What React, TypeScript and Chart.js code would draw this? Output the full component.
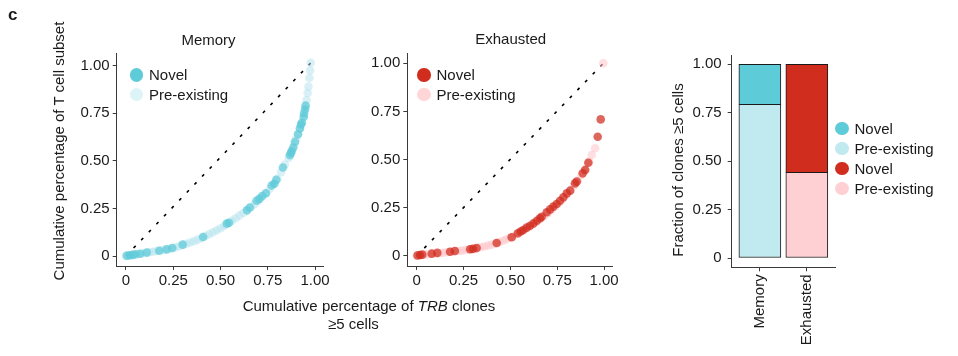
import React, { useEffect, useRef } from "react";
import { Chart, registerables } from "chart.js";

Chart.register(...registerables);

const FONT = "'Liberation Sans', Arial, Helvetica, sans-serif";
const TEXT = "#1a1a1a";
const AXIS = "#3a3a3a";

// ---------- data ----------
const axisTicks = [0, 0.25, 0.5, 0.75, 1];
const axisTickLabels = ["0", "0.25", "0.50", "0.75", "1.00"];

const memoryNovel: [number, number][] = [
  [0.005, 0.002], [0.02, 0.004], [0.035, 0.006], [0.05, 0.009], [0.075, 0.012],
  [0.11, 0.018], [0.176, 0.028], [0.215, 0.035], [0.245, 0.042], [0.3, 0.06],
  [0.408, 0.1], [0.533, 0.17], [0.545, 0.175], [0.64, 0.24], [0.655, 0.255],
  [0.69, 0.29], [0.705, 0.3], [0.72, 0.315], [0.74, 0.33], [0.77, 0.37],
  [0.785, 0.38], [0.795, 0.4], [0.83, 0.465], [0.867, 0.53], [0.872, 0.54],
  [0.876, 0.55], [0.885, 0.57], [0.894, 0.6], [0.91, 0.64], [0.92, 0.67],
  [0.925, 0.69], [0.93, 0.7], [0.94, 0.73], [0.942, 0.75], [0.947, 0.77],
  [0.95, 0.79],
];

const memoryPreexisting: [number, number][] = [
  [0.0, 0.0], [0.02, 0.003], [0.04, 0.006], [0.06, 0.009], [0.08, 0.012],
  [0.1, 0.016], [0.12, 0.019], [0.14, 0.022], [0.16, 0.025], [0.18, 0.029],
  [0.2, 0.032], [0.22, 0.036], [0.24, 0.04], [0.26, 0.045], [0.28, 0.051],
  [0.3, 0.058], [0.32, 0.064], [0.34, 0.071], [0.36, 0.078], [0.38, 0.086],
  [0.4, 0.095], [0.42, 0.105], [0.44, 0.115], [0.46, 0.125], [0.48, 0.135],
  [0.5, 0.146], [0.52, 0.158], [0.54, 0.172], [0.56, 0.185], [0.58, 0.198],
  [0.6, 0.212], [0.62, 0.226], [0.64, 0.24], [0.66, 0.256], [0.68, 0.272],
  [0.7, 0.29], [0.72, 0.31], [0.74, 0.33], [0.76, 0.352], [0.78, 0.378],
  [0.8, 0.405], [0.82, 0.44], [0.84, 0.48], [0.86, 0.515], [0.88, 0.56],
  [0.89, 0.585], [0.9, 0.615], [0.91, 0.64], [0.92, 0.67], [0.93, 0.7],
  [0.94, 0.735], [0.95, 0.785], [0.955, 0.82], [0.961, 0.856], [0.965, 0.89],
  [0.97, 0.935], [0.974, 0.975], [0.977, 1.015],
];

const memoryDiagonal: [number, number][] = [[0, 0], [0.978, 1.015]];

const exhaustedNovel: [number, number][] = [
  [0.005, 0.003], [0.018, 0.005], [0.03, 0.007], [0.08, 0.012], [0.11, 0.016],
  [0.178, 0.022], [0.204, 0.026], [0.285, 0.035], [0.3, 0.037], [0.32, 0.041],
  [0.427, 0.067], [0.507, 0.097], [0.54, 0.118], [0.555, 0.127], [0.569, 0.135],
  [0.587, 0.147], [0.605, 0.157], [0.623, 0.169], [0.641, 0.183], [0.658, 0.196],
  [0.667, 0.204], [0.694, 0.227], [0.712, 0.242], [0.729, 0.256], [0.747, 0.27],
  [0.765, 0.287], [0.783, 0.305], [0.801, 0.325], [0.819, 0.339], [0.845, 0.377],
  [0.854, 0.386], [0.886, 0.429], [0.899, 0.446], [0.916, 0.484], [0.966, 0.619],
  [0.982, 0.709],
];

const exhaustedPreexisting: [number, number][] = [
  [0.0, 0.0], [0.02, 0.004], [0.04, 0.007], [0.06, 0.009], [0.08, 0.011],
  [0.1, 0.013], [0.12, 0.015], [0.14, 0.017], [0.16, 0.019], [0.18, 0.021],
  [0.2, 0.024], [0.22, 0.026], [0.24, 0.028], [0.26, 0.031], [0.28, 0.034],
  [0.3, 0.037], [0.32, 0.041], [0.34, 0.045], [0.36, 0.049], [0.38, 0.054],
  [0.4, 0.059], [0.42, 0.065], [0.44, 0.072], [0.46, 0.079], [0.48, 0.087],
  [0.5, 0.095], [0.52, 0.105], [0.54, 0.116], [0.56, 0.128], [0.58, 0.14],
  [0.6, 0.152], [0.62, 0.165], [0.64, 0.178], [0.66, 0.192], [0.68, 0.207],
  [0.7, 0.222], [0.72, 0.24], [0.74, 0.258], [0.76, 0.277], [0.78, 0.297],
  [0.8, 0.318], [0.82, 0.34], [0.84, 0.365], [0.86, 0.392], [0.88, 0.42],
  [0.9, 0.45], [0.92, 0.49], [0.934, 0.524], [0.952, 0.559], [0.996, 1.0],
];

const exhaustedDiagonal: [number, number][] = [[0, 0], [0.996, 1.0]];

const barCategories = ["Memory", "Exhausted"];
const barPreexisting = [0.793, 0.442];
const barNovel = [0.207, 0.558];

// ---------- colours ----------
const MEM_NOVEL = "#5ecbd8";
const MEM_PRE_BAR = "#c0e9f0";
const MEM_PRE_LEG = "#dcf3f7";
const EXH_NOVEL = "#d12d1e";
const EXH_PRE_BAR = "#ffd0d3";
const EXH_PRE_LEG = "#ffd6d8";

const toXY = (arr: [number, number][]) => arr.map(([x, y]) => ({ x, y }));

function fixSize(size: number, vertical: boolean) {
  return (scale: any) => {
    if (vertical) scale.width = size;
    else scale.height = size;
    scale.paddingLeft = 0;
    scale.paddingRight = 0;
    scale.paddingTop = 0;
    scale.paddingBottom = 0;
  };
}

function valueAxis(min: number, max: number, vertical: boolean, size: number, padding: number) {
  return {
    type: "linear",
    min,
    max,
    afterBuildTicks: (s: any) => {
      s.ticks = axisTicks.map((v) => ({ value: v }));
    },
    afterFit: fixSize(size, vertical),
    ticks: {
      autoSkip: false,
      maxRotation: 0,
      padding,
      color: TEXT,
      font: { family: FONT, size: 15 },
      callback: (v: number) => {
        const i = axisTicks.findIndex((t) => Math.abs(t - v) < 1e-9);
        return i >= 0 ? axisTickLabels[i] : "";
      },
    },
    grid: { offset: false, drawOnChartArea: false, drawTicks: true, tickLength: 4, tickColor: AXIS, tickWidth: 1 },
    border: { display: true, color: AXIS, width: 1 },
  };
}

function scatterConfig(
  novel: [number, number][],
  pre: [number, number][],
  diag: [number, number][],
  novelColor: string,
  preColor: string,
  xr: [number, number],
  yr: [number, number],
  pad: { left: number; right: number; top: number; bottom: number }
): any {
  return {
    type: "scatter",
    data: {
      datasets: [
        {
          label: "Novel",
          data: toXY(novel),
          pointBackgroundColor: novelColor,
          backgroundColor: novelColor,
          pointBorderWidth: 0,
          pointRadius: 4.3,
          order: 1,
        },
        {
          label: "Pre-existing",
          data: toXY(pre),
          pointBackgroundColor: preColor,
          backgroundColor: preColor,
          pointBorderWidth: 0,
          pointRadius: 4.3,
          order: 2,
        },
        {
          type: "line",
          label: "diagonal",
          data: toXY(diag),
          borderColor: "#000",
          borderWidth: 1.6,
          borderDash: [3, 8],
          pointRadius: 0,
          fill: false,
          order: 3,
        },
      ],
    },
    options: {
      responsive: false,
      animation: false,
      events: [],
      layout: { padding: pad },
      plugins: { legend: { display: false }, tooltip: { enabled: false }, title: { display: false } },
      scales: {
        x: valueAxis(xr[0], xr[1], false, 30, 2),
        y: valueAxis(yr[0], yr[1], true, 40, 3),
      },
    },
  };
}

function barConfig(): any {
  return {
    type: "bar",
    data: {
      datasets: [
        {
          label: "Pre-existing",
          data: barPreexisting.map((y, i) => ({ x: i + 1, y })),
          backgroundColor: [MEM_PRE_BAR, EXH_PRE_BAR],
          borderColor: "#1a1a1a",
          borderWidth: 1,
          borderSkipped: false,
          barThickness: 42,
        },
        {
          label: "Novel",
          data: barNovel.map((y, i) => ({ x: i + 1, y })),
          backgroundColor: [MEM_NOVEL, EXH_NOVEL],
          borderColor: "#1a1a1a",
          borderWidth: { top: 1, left: 1, right: 1, bottom: 0 },
          borderSkipped: false,
          barThickness: 42,
        },
      ],
    },
    options: {
      responsive: false,
      animation: false,
      events: [],
      layout: { padding: { left: 61.7, right: 123, top: 55, bottom: 3.7 } },
      plugins: { legend: { display: false }, tooltip: { enabled: false } },
      scales: {
        x: {
          type: "linear",
          min: 0.4,
          max: 2.6,
          stacked: true,
          offset: false,
          afterBuildTicks: (s: any) => {
            s.ticks = barCategories.map((_, i) => ({ value: i + 1 }));
          },
          afterFit: fixSize(85, false),
          ticks: {
            autoSkip: false,
            minRotation: 90,
            maxRotation: 90,
            padding: 3,
            color: TEXT,
            font: { family: FONT, size: 15 },
            callback: (v: number) => barCategories[Math.round(v) - 1] ?? "",
          },
          grid: { offset: false, drawOnChartArea: false, drawTicks: true, tickLength: 4, tickColor: AXIS },
          border: { display: true, color: AXIS, width: 1 },
        },
        y: {
          ...valueAxis(-0.048, 1.048, true, 40, 6),
          stacked: true,
        },
      },
    },
  };
}

function useChart(ref: React.RefObject<HTMLCanvasElement | null>, make: () => any) {
  useEffect(() => {
    if (!ref.current) return;
    const chart = new Chart(ref.current, make());
    return () => chart.destroy();
  }, []);
}

const abs = (extra: React.CSSProperties): React.CSSProperties => ({
  position: "absolute",
  fontFamily: FONT,
  fontSize: 15,
  lineHeight: "15px",
  color: TEXT,
  whiteSpace: "nowrap",
  ...extra,
});

function LegendItem({ cx, cy, color, label, r = 6.7 }: { cx: number; cy: number; color: string; label: string; r?: number }) {
  return (
    <>
      <div
        style={{
          position: "absolute",
          left: cx - r,
          top: cy - r,
          width: 2 * r,
          height: 2 * r,
          borderRadius: "50%",
          background: color,
        }}
      />
      <div style={abs({ left: cx + 12.5, top: cy + 5 - 12.7 })}>{label}</div>
    </>
  );
}

export default function App() {
  const memRef = useRef<HTMLCanvasElement>(null);
  const exhRef = useRef<HTMLCanvasElement>(null);
  const barRef = useRef<HTMLCanvasElement>(null);

  useChart(memRef, () =>
    scatterConfig(
      memoryNovel,
      memoryPreexisting,
      memoryDiagonal,
      "rgba(94,203,216,0.7)",
      "rgba(180,228,237,0.5)",
      [-0.049, 1.042],
      [-0.0525, 1.065],
      { left: 76.7, right: 17, top: 53.3, bottom: 4 }
    )
  );
  useChart(exhRef, () =>
    scatterConfig(
      exhaustedNovel,
      exhaustedPreexisting,
      exhaustedDiagonal,
      "rgba(209,45,30,0.72)",
      "rgba(255,196,200,0.55)",
      [-0.05, 1.046],
      [-0.052, 1.052],
      { left: 27.3, right: 17.3, top: 53.3, bottom: 4 }
    )
  );
  useChart(barRef, barConfig);

  return (
    <div style={{ position: "fixed", left: 0, top: 0, width: 958, height: 356, background: "#fff", overflow: "hidden" }}>
      <canvas ref={memRef} width={340} height={300} style={{ position: "absolute", left: 0, top: 0, width: 340, height: 300 }} />
      <canvas ref={exhRef} width={290} height={300} style={{ position: "absolute", left: 340, top: 0, width: 290, height: 300 }} />
      <canvas ref={barRef} width={328} height={356} style={{ position: "absolute", left: 630, top: 0, width: 328, height: 356 }} />

      <div style={abs({ left: 8, top: 6, fontWeight: "bold", fontSize: 17, lineHeight: "17px" })}>c</div>

      <div style={abs({ left: 108.5, width: 200, textAlign: "center", top: 31.6 })}>Memory</div>
      <div style={abs({ left: 410.7, width: 200, textAlign: "center", top: 31.3 })}>Exhausted</div>

      <div
        style={abs({
          left: 59 - 150,
          top: 151 - 9,
          width: 300,
          lineHeight: "18px",
          textAlign: "center",
          transform: "rotate(-90deg)",
          transformOrigin: "50% 50%",
        })}
      >
        Cumulative percentage of T cell subset
      </div>

      <div style={abs({ left: 242.7, top: 297.8 })}>
        Cumulative percentage of <i>TRB</i> clones
      </div>
      <div style={abs({ left: 328, top: 316.3 })}>≥5 cells</div>

      <div
        style={abs({
          left: 678 - 150,
          top: 170 - 9,
          width: 300,
          lineHeight: "18px",
          textAlign: "center",
          transform: "rotate(-90deg)",
          transformOrigin: "50% 50%",
        })}
      >
        Fraction of clones ≥5 cells
      </div>

      <LegendItem cx={136.5} cy={75} color={MEM_NOVEL} label="Novel" />
      <LegendItem cx={136.5} cy={94.5} color={MEM_PRE_LEG} label="Pre-existing" />
      <LegendItem cx={424} cy={75} color={EXH_NOVEL} label="Novel" />
      <LegendItem cx={424} cy={94.5} color={EXH_PRE_LEG} label="Pre-existing" />

      <LegendItem cx={842} cy={128.5} color={MEM_NOVEL} label="Novel" />
      <LegendItem cx={842} cy={148.5} color={MEM_PRE_BAR} label="Pre-existing" />
      <LegendItem cx={842} cy={168.5} color={EXH_NOVEL} label="Novel" />
      <LegendItem cx={842} cy={188.5} color={EXH_PRE_BAR} label="Pre-existing" />
    </div>
  );
}
